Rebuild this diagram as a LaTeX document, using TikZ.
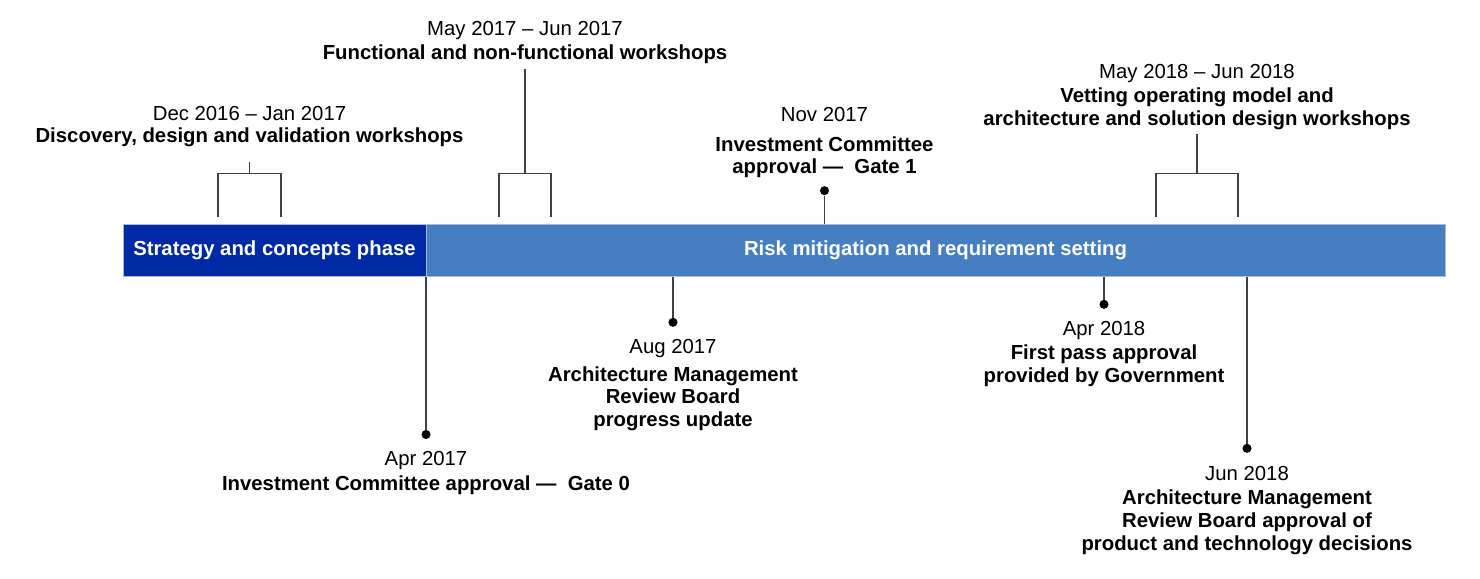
\documentclass[tikz,border=0pt]{standalone}
\usepackage{fontspec}
\setmainfont{Liberation Sans}
\usepackage{tikz}
\usetikzlibrary{calc}
\usepackage{xcolor}
\definecolor{phaseone}{HTML}{002AA5}
\definecolor{phasetwo}{HTML}{467FC1}
\definecolor{baredge}{HTML}{A9BAD6}
\definecolor{linkgray}{HTML}{404040}
\tikzset{
	datelabel/.style={anchor=base,inner sep=0pt,font=\fontsize{15.25}{17}\selectfont},
	eventlabel/.style={anchor=north,inner sep=0pt,align=center,font=\fontsize{15.25}{17}\selectfont\bfseries},
	phasebar/.style={draw=baredge,line width=0.6pt,text=white,inner sep=0pt,minimum height=39pt,font=\fontsize{15.25}{17}\selectfont\bfseries},
	milestone/.style={circle,fill=black,inner sep=0pt,minimum size=6.8pt},
	link/.style={draw=linkgray,line width=0.9pt}
}
\begin{document}
\begin{tikzpicture}[x=0.75pt,y=-0.75pt]
		\useasboundingbox (0,0) rectangle (1480,578);
		
		% Phase bar
		\node[phasebar,fill=phaseone,minimum width=227.25pt] (phase1) at (274.5,250.5) {Strategy and concepts phase};
		\node[phasebar,fill=phasetwo,minimum width=764.25pt] (phase2) at (935.5,250.5) {Risk mitigation and requirement setting};
		
		% Workshops above the bar (brackets)
		\node[datelabel] (dec16) at (249.5,120.3) {Dec 2016 – Jan 2017};
		\node[eventlabel] (dec16ev) at (249.5,127.2) {Discovery, design and validation workshops};
		\coordinate (b1l) at (218,216.7);
		\coordinate (b1r) at (281,216.7);
		\coordinate (b1m) at (249.5,173.3);
		\draw[link] (b1l) |- (b1m) -| (b1r);
		\draw[link,shorten >=11.3pt] (b1m) -- (b1m |- dec16ev.south);
		
		\node[datelabel] (may17) at (525,35.7) {May 2017 – Jun 2017};
		\node[eventlabel] (may17ev) at (525,44.5) {Functional and non-functional workshops};
		\coordinate (b2l) at (499,216.7);
		\coordinate (b2r) at (551,216.7);
		\coordinate (b2m) at (525,173.3);
		\draw[link] (b2l) |- (b2m) -| (b2r);
		\draw[link,shorten >=3.6pt] (b2m) -- (b2m |- may17ev.south);
		
		\node[datelabel] (may18) at (1197,78.3) {May 2018 – Jun 2018};
		\node[eventlabel] (may18ev) at (1197,87.8) {Vetting operating model and\\architecture and solution design workshops};
		\coordinate (b3l) at (1156,216.7);
		\coordinate (b3r) at (1238,216.7);
		\coordinate (b3m) at (1197,173.3);
		\draw[link] (b3l) |- (b3m) -| (b3r);
		\draw[link,shorten >=2.6pt] (b3m) -- (b3m |- may18ev.south);
		
		% Milestone above the bar
		\node[datelabel] (nov17) at (824.5,121.7) {Nov 2017};
		\node[eventlabel] (nov17ev) at (824.5,136.2) {Investment Committee\\approval —\ \ Gate 1};
		\node[milestone] (nov17dot) at (824.5,190.7) {};
		\draw[link] (nov17dot) -- (nov17dot |- phase2.north);
		
		% Milestones below the bar
		\node[milestone] (apr17dot) at (426,434.5) {};
		\node[datelabel] (apr17) at (426,465.7) {Apr 2017};
		\node[eventlabel] (apr17ev) at (426,475.5) {Investment Committee approval —\ \ Gate 0};
		\draw[link] (apr17dot) -- (apr17dot |- phase2.south);
		
		\node[milestone] (aug17dot) at (673,322.3) {};
		\node[datelabel] (aug17) at (673,353.5) {Aug 2017};
		\node[eventlabel] (aug17ev) at (673,366.2) {Architecture Management\\Review Board\\progress update};
		\draw[link] (aug17dot) -- (aug17dot |- phase2.south);
		
		\node[milestone] (apr18dot) at (1104,304.3) {};
		\node[datelabel] (apr18) at (1104,335.7) {Apr 2018};
		\node[eventlabel] (apr18ev) at (1104,344.6) {First pass approval\\provided by Government};
		\draw[link] (apr18dot) -- (apr18dot |- phase2.south);
		
		\node[milestone] (jun18dot) at (1247,448.3) {};
		\node[datelabel] (jun18) at (1247,480.5) {Jun 2018};
		\node[eventlabel] (jun18ev) at (1247,489.8) {Architecture Management\\Review Board approval of\\product and technology decisions};
		\draw[link] (jun18dot) -- (jun18dot |- phase2.south);
		
	\end{tikzpicture}
\end{document}
